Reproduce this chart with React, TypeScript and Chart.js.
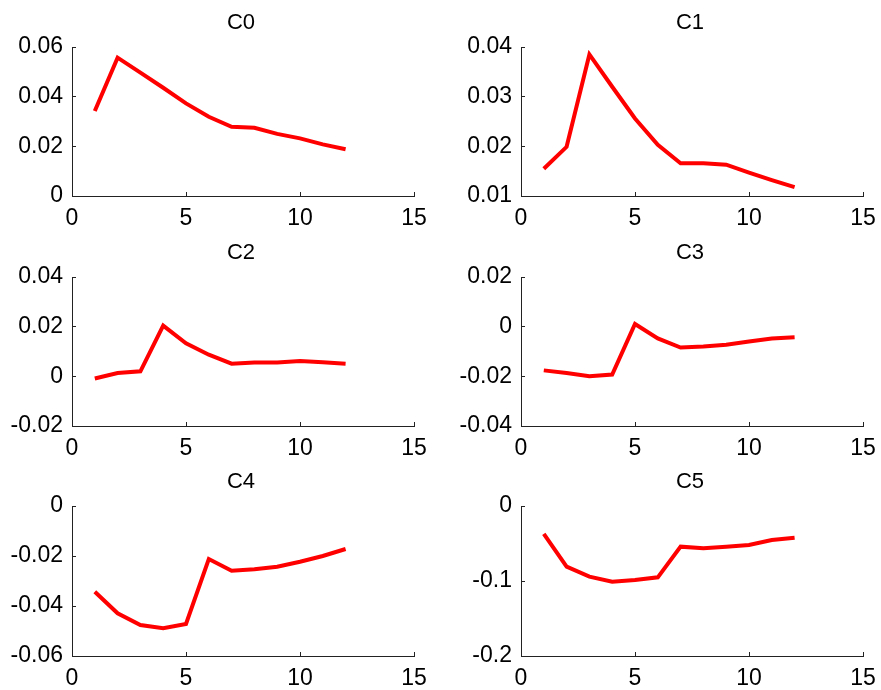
import React, { useEffect, useRef } from "react";
import { Chart, registerables } from "chart.js";

Chart.register(...registerables);

// Shared x positions and axis ticks
const xValues = [1, 2, 3, 4, 5, 6, 7, 8, 9, 10, 11, 12];
const xTicks = [0, 5, 10, 15];

// Series values per panel
const c0 = [0.0342, 0.0557, 0.0497, 0.0436, 0.0373, 0.0319, 0.0279, 0.0275, 0.025, 0.0232, 0.0208, 0.0188];
const c1 = [0.0155, 0.0199, 0.0385, 0.032, 0.0256, 0.0203, 0.0166, 0.0166, 0.0163, 0.0147, 0.0132, 0.0118];
const c2 = [-0.0009, 0.0013, 0.002, 0.0204, 0.0133, 0.0087, 0.0051, 0.0056, 0.0056, 0.0062, 0.0057, 0.0051];
const c3 = [-0.0176, -0.0187, -0.02, -0.0193, 0.0011, -0.0047, -0.0084, -0.008, -0.0073, -0.006, -0.0048, -0.0043];
const c4 = [-0.0343, -0.0429, -0.0476, -0.0489, -0.0472, -0.0212, -0.0259, -0.0253, -0.0243, -0.0223, -0.02, -0.0172];
const c5 = [-0.0373, -0.0809, -0.0942, -0.1009, -0.0987, -0.0951, -0.0542, -0.0564, -0.0542, -0.052, -0.0453, -0.0422];

// Y tick labels per panel
const y0Ticks = [0, 0.02, 0.04, 0.06];
const y1Ticks = [0.01, 0.02, 0.03, 0.04];
const y2Ticks = [-0.02, 0, 0.02, 0.04];
const y3Ticks = [-0.04, -0.02, 0, 0.02];
const y4Ticks = [-0.06, -0.04, -0.02, 0];
const y5Ticks = [-0.2, -0.1, 0];

const titles = ["C0", "C1", "C2", "C3", "C4", "C5"];
const seriesList = [c0, c1, c2, c3, c4, c5];
const yTickList = [y0Ticks, y1Ticks, y2Ticks, y3Ticks, y4Ticks, y5Ticks];

const FONT = "'Liberation Sans', Arial, Helvetica, sans-serif";
const AXIS_COLOR = "#222222";

const CANVAS_W = 432;
const CANVAS_H = 230;

const panelTitle = {
  id: "panelTitle",
  afterDraw(chart: any, _args: any, opts: any) {
    const { ctx, chartArea } = chart;
    ctx.save();
    ctx.font = `22px ${FONT}`;
    ctx.fillStyle = "#000000";
    ctx.textAlign = "center";
    ctx.textBaseline = "middle";
    ctx.fillText(opts.text, (chartArea.left + chartArea.right) / 2 - 2, chartArea.top - 24);
    ctx.restore();
  },
};

function Panel({ index, left, top, padTop }: { index: number; left: number; top: number; padTop: number }) {
  const ref = useRef<HTMLCanvasElement>(null);

  useEffect(() => {
    const canvas = ref.current;
    if (!canvas) return;
    const yTicks = yTickList[index];
    const chart = new Chart(canvas, {
      type: "line",
      data: {
        labels: xValues,
        datasets: [
          {
            data: xValues.map((x, i) => ({ x, y: seriesList[index][i] })),
            borderColor: "#ff0000",
            borderWidth: 4,
            pointRadius: 0,
            tension: 0,
            fill: false,
          },
        ],
      },
      options: {
        responsive: false,
        animation: false,
        devicePixelRatio: 1,
        layout: { padding: { top: padTop, right: CANVAS_W - 414, left: 0, bottom: 0 } },
        plugins: {
          legend: { display: false },
          tooltip: { enabled: false },
          title: { display: false },
          panelTitle: { text: titles[index] },
        } as any,
        scales: {
          x: {
            type: "linear",
            min: 0,
            max: 15,
            afterBuildTicks: (scale: any) => {
              scale.ticks = xTicks.map((v) => ({ value: v }));
            },
            afterFit: (scale: any) => {
              scale.height = 34;
              scale.paddingLeft = 0;
              scale.paddingRight = 0;
            },
            ticks: {
              font: { family: FONT, size: 23 },
              color: "#000000",
              padding: 13,
              maxRotation: 0,
              callback: (v: any) => String(v),
            },
            grid: {
              drawOnChartArea: false,
              drawTicks: true,
              tickLength: -4,
              color: AXIS_COLOR,
              lineWidth: 1,
            },
            border: { display: true, color: AXIS_COLOR, width: 1 },
          },
          y: {
            type: "linear",
            min: yTicks[0],
            max: yTicks[yTicks.length - 1],
            afterBuildTicks: (scale: any) => {
              scale.ticks = yTicks.map((v) => ({ value: v }));
            },
            afterFit: (scale: any) => {
              scale.width = 72;
              scale.paddingTop = 0;
              scale.paddingBottom = 0;
            },
            ticks: {
              font: { family: FONT, size: 23 },
              color: "#000000",
              padding: 13,
              callback: (v: any) => String(v),
            },
            grid: {
              drawOnChartArea: false,
              drawTicks: true,
              tickLength: -4,
              color: AXIS_COLOR,
              lineWidth: 1,
            },
            border: { display: true, color: AXIS_COLOR, width: 1 },
          },
        },
      },
      plugins: [panelTitle],
    });
    return () => chart.destroy();
  }, [index, padTop]);

  return (
    <canvas
      ref={ref}
      width={CANVAS_W}
      height={CANVAS_H}
      style={{ position: "absolute", left, top, width: CANVAS_W, height: CANVAS_H }}
    />
  );
}

export default function App() {
  const rows = [
    { top: 0, padTop: 47 },
    { top: 230, padTop: 47 },
    { top: 460, padTop: 46 },
  ];
  const cols = [0, 449];
  return (
    <div
      style={{
        position: "absolute",
        left: 0,
        top: 0,
        width: 881,
        height: 690,
        background: "#ffffff",
        overflow: "hidden",
      }}
    >
      {rows.map((r, ri) =>
        cols.map((c, ci) => (
          <Panel key={`${ri}-${ci}`} index={ri * 2 + ci} left={c} top={r.top} padTop={r.padTop} />
        ))
      )}
    </div>
  );
}
